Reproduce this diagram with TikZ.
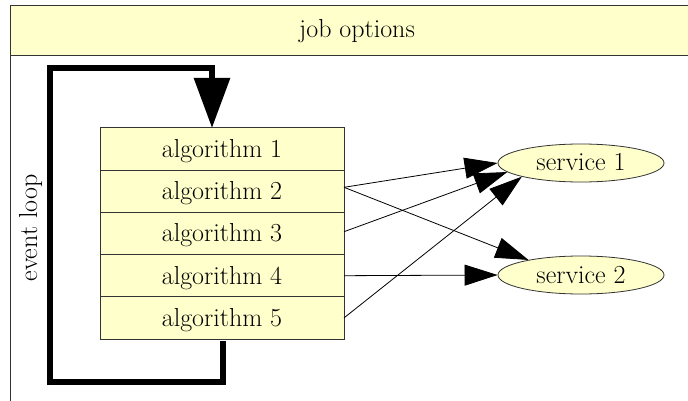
\documentclass[tikz,border=0pt]{standalone}
\usepackage{fontspec}
\usetikzlibrary{arrows.meta,shapes.geometric}
\definecolor{paleyellow}{HTML}{FFFFCC}
\definecolor{frameline}{HTML}{333333}
\begin{document}
\begin{tikzpicture}[x=1pt,y=-1pt,
  lbl/.style={font=\rmfamily\fontsize{26}{31}\selectfont},
  rowbox/.style={lbl, draw=frameline, line width=1pt, fill=paleyellow, minimum width=244pt, minimum height=42.2pt, inner sep=0pt, text height=18pt, text depth=1.4pt, outer sep=0pt},
  svc/.style={lbl, ellipse, draw=frameline, line width=0.8pt, fill=paleyellow, minimum width=166pt, minimum height=38pt, inner sep=0pt, text height=17pt, text depth=1pt},
  edge/.style={draw=black, line width=0.8pt, -{Triangle[length=33pt,width=21pt]}},
  loopline/.style={line width=6pt, line join=miter, -{Triangle[length=50pt,width=35pt]}}
]
\useasboundingbox (0,0) rectangle (688,401);
\clip (0,0) rectangle (688,401);
\fill[white] (0,0) rectangle (688,401);
% frame
\filldraw[fill=paleyellow, draw=frameline, line width=1pt] (10,6) rectangle (704,56);
\draw[frameline, line width=1pt] (10,56) -- (10,420);
\node[lbl, anchor=base] (title) at (357,38) {job options};
% algorithms
\node[rowbox] (a1) at (222,149.1) {algorithm 1};
\node[rowbox] (a2) at (222,191.3) {algorithm 2};
\node[rowbox] (a3) at (222,233.5) {algorithm 3};
\node[rowbox] (a4) at (222,275.7) {algorithm 4};
\node[rowbox] (a5) at (222,317.9) {algorithm 5};
% services
\node[svc] (s1) at (581,163) {service 1};
\node[svc] (s2) at (581,275) {service 2};
% event loop
\node[lbl, rotate=90, anchor=base] (ev) at (37,228) {event loop};
\coordinate (ls) at (223,341);
\coordinate (lt) at (212,68);
\draw[loopline] (ls) |- (49.5,382) |- (lt) -- (lt |- a1.north);
% edges
\draw[edge] ([yshift=4pt]a2.east) -- (s1.180);
\draw[edge] ([yshift=4pt]a2.east) -- (s2.164);
\draw[edge] ([yshift=1.8pt]a3.east) -- (s1.187);
\draw[edge] (a4.east) -- (s2.180);
\draw[edge] (a5.east) -- (s1.193);
\end{tikzpicture}
\end{document}
